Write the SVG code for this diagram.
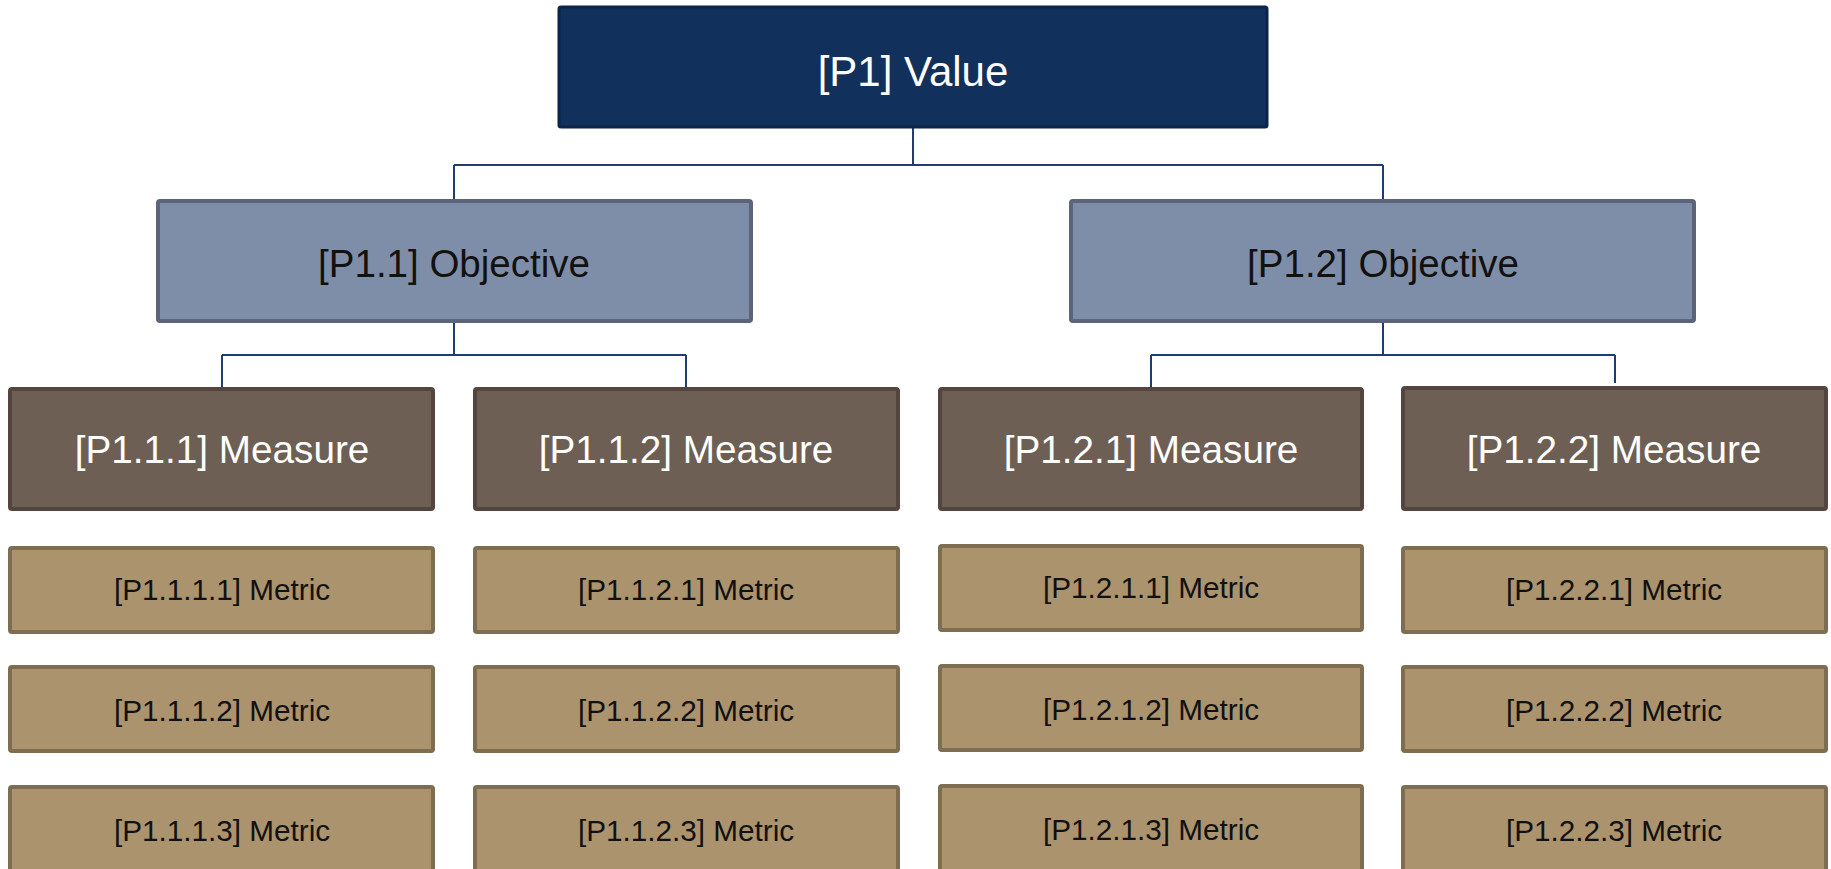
<svg xmlns="http://www.w3.org/2000/svg" width="1831" height="869" viewBox="0 0 1831 869">
<style>
text{font-family:"Liberation Sans",Arial,sans-serif;text-anchor:middle}
.val rect{fill:#12305c;stroke:#0c2448;stroke-width:3}
.val text{fill:#ffffff;font-size:42px}
.obj rect{fill:#7f8ea8;stroke:#5b6479;stroke-width:4}
.obj text{fill:#111111;font-size:38.5px}
.mea rect{fill:#6e5f54;stroke:#54463e;stroke-width:4}
.mea text{fill:#ffffff;font-size:38.7px}
.met rect{fill:#ab936e;stroke:#7e6d50;stroke-width:4}
.met text{fill:#111111;font-size:29.7px}
.conn path{fill:none;stroke:#1f3d6e;stroke-width:2}
</style>
<rect width="1831" height="869" fill="#ffffff"/>
<g class="conn" id="connectors">
<path d="M913 126V165M454 165H1383M454 165V201M1383 165V201"/>
<path d="M454 321V355M222 355H686M222 355V388M686 355V388"/>
<path d="M1383 321V355M1151 355H1615M1151 355V388M1615 355V383"/>
</g>
<g class="val" id="p1"><rect x="559" y="7" width="708" height="120" rx="2"/><text x="913" y="86">[P1] Value</text></g>
<g class="obj" id="p1-1"><rect x="158" y="201" width="593" height="120" rx="2"/><text x="454" y="277">[P1.1] Objective</text></g>
<g class="obj" id="p1-2"><rect x="1071" y="201" width="623" height="120" rx="2"/><text x="1383" y="277">[P1.2] Objective</text></g>
<g class="mea" id="p1-1-1"><rect x="10" y="389" width="423" height="120" rx="2"/><text x="222" y="463">[P1.1.1] Measure</text></g>
<g class="mea" id="p1-1-2"><rect x="475" y="389" width="423" height="120" rx="2"/><text x="686" y="463">[P1.1.2] Measure</text></g>
<g class="mea" id="p1-2-1"><rect x="940" y="389" width="422" height="120" rx="2"/><text x="1151" y="463">[P1.2.1] Measure</text></g>
<g class="mea" id="p1-2-2"><rect x="1403" y="388" width="423" height="121" rx="2"/><text x="1614" y="463">[P1.2.2] Measure</text></g>
<g class="met" id="p1-1-1-1"><rect x="10" y="548" width="423" height="84" rx="2"/><text x="222" y="600">[P1.1.1.1] Metric</text></g>
<g class="met" id="p1-1-1-2"><rect x="10" y="667" width="423" height="84" rx="2"/><text x="222" y="721">[P1.1.1.2] Metric</text></g>
<g class="met" id="p1-1-1-3"><rect x="10" y="787" width="423" height="90" rx="2"/><text x="222" y="841">[P1.1.1.3] Metric</text></g>
<g class="met" id="p1-1-2-1"><rect x="475" y="548" width="423" height="84" rx="2"/><text x="686" y="600">[P1.1.2.1] Metric</text></g>
<g class="met" id="p1-1-2-2"><rect x="475" y="667" width="423" height="84" rx="2"/><text x="686" y="721">[P1.1.2.2] Metric</text></g>
<g class="met" id="p1-1-2-3"><rect x="475" y="787" width="423" height="90" rx="2"/><text x="686" y="841">[P1.1.2.3] Metric</text></g>
<g class="met" id="p1-2-1-1"><rect x="940" y="546" width="422" height="84" rx="2"/><text x="1151" y="598">[P1.2.1.1] Metric</text></g>
<g class="met" id="p1-2-1-2"><rect x="940" y="666" width="422" height="84" rx="2"/><text x="1151" y="720">[P1.2.1.2] Metric</text></g>
<g class="met" id="p1-2-1-3"><rect x="940" y="786" width="422" height="90" rx="2"/><text x="1151" y="840">[P1.2.1.3] Metric</text></g>
<g class="met" id="p1-2-2-1"><rect x="1403" y="548" width="423" height="84" rx="2"/><text x="1614" y="600">[P1.2.2.1] Metric</text></g>
<g class="met" id="p1-2-2-2"><rect x="1403" y="667" width="423" height="84" rx="2"/><text x="1614" y="721">[P1.2.2.2] Metric</text></g>
<g class="met" id="p1-2-2-3"><rect x="1403" y="787" width="423" height="90" rx="2"/><text x="1614" y="841">[P1.2.2.3] Metric</text></g>
</svg>
